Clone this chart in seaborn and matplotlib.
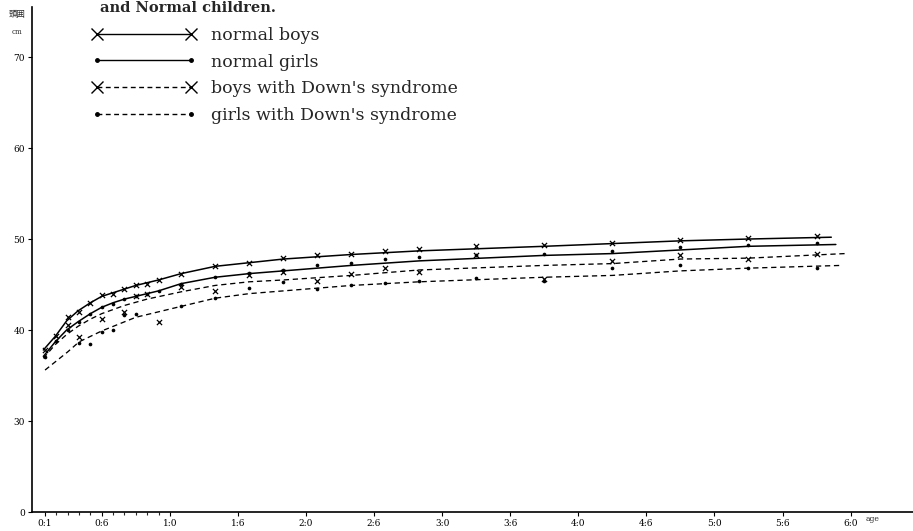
import matplotlib
matplotlib.use("Agg")
import matplotlib.pyplot as plt
from matplotlib.lines import Line2D
import numpy as np
import pandas as pd
import seaborn as sns

# ---------------- data (age in months, head circumference in cm) ----------------
boys_curve_m = [0.85, 1.9, 2.9, 3.9, 5, 6, 7, 8, 9, 10, 11, 13, 16, 19, 22, 28, 34, 45, 51, 57, 63, 70.3]
boys_curve_v = [37.8, 39.3, 41.0, 42.1, 43.0, 43.7, 44.1, 44.5, 44.9, 45.2, 45.5, 46.2, 47.0, 47.4, 47.8, 48.3, 48.7, 49.2, 49.5, 49.8, 50.0, 50.2]

girls_curve_m = [0.85, 1.9, 2.9, 3.9, 5, 6, 7, 8, 9, 10, 11, 13, 16, 19, 22, 28, 34, 45, 51, 57, 63, 70.7]
girls_curve_v = [37.1, 38.7, 40.0, 40.9, 41.8, 42.5, 43.0, 43.4, 43.7, 44.0, 44.3, 45.1, 45.8, 46.2, 46.5, 47.1, 47.6, 48.2, 48.4, 48.8, 49.2, 49.4]

dboys_curve_m = [0.85, 1.9, 2.9, 3.9, 5, 6, 8, 10, 13, 16, 19, 22, 28, 34, 45, 51, 57, 63, 71.5]
dboys_curve_v = [36.9, 38.4, 39.5, 40.4, 41.2, 41.8, 42.7, 43.4, 44.2, 44.9, 45.3, 45.5, 46.0, 46.6, 47.1, 47.3, 47.8, 47.9, 48.4]

dgirls_curve_m = [1.0, 2, 3, 4, 5, 6, 7, 9, 13, 16, 19, 22, 28, 34, 45, 51, 57, 63, 71.2]
dgirls_curve_v = [35.6, 36.6, 37.6, 38.7, 39.3, 39.9, 40.4, 41.4, 42.6, 43.5, 44.0, 44.3, 44.9, 45.3, 45.8, 46.0, 46.5, 46.8, 47.1]

pts_m = [1, 2, 3, 4, 5, 6, 7, 8, 9, 10, 11, 13, 16, 19, 22, 25, 28, 31, 34, 39, 45, 51, 57, 63, 69]
boys_pts = [37.8, 39.3, 41.4, 42.0, 43.0, 43.8, 44.0, 44.5, 44.9, 45.1, 45.5, 46.2, 47.0, 47.4, 47.9,
            48.2, 48.4, 48.7, 48.9, 49.2, 49.3, 49.6, 49.9, 50.1, 50.3]
girls_pts = [37.0, 38.8, 40.0, 40.9, 41.8, 42.5, 42.9, 43.4, 43.7, 44.0, 44.3, 45.1, 45.8, 46.3, 46.6,
             47.1, 47.4, 47.8, 48.0, 48.2, 48.4, 48.7, 49.1, 49.3, 49.6]

dboys_pts_m = [3, 4, 6, 8, 9, 10, 11, 13, 16, 19, 22, 25, 28, 31, 34, 39, 45, 51, 57, 63, 69]
dboys_pts = [40.5, 39.2, 41.2, 42.0, 43.7, 44.0, 40.9, 44.7, 44.3, 46.0, 46.4, 45.4, 46.2, 46.8, 46.4,
             48.2, 45.6, 47.6, 48.2, 47.8, 48.4]

dgirls_pts_m = [4, 5, 6, 7, 8, 9, 13, 16, 19, 22, 25, 28, 31, 34, 39, 45, 51, 57, 63, 69]
dgirls_pts = [38.6, 38.5, 39.8, 40.0, 41.6, 41.8, 42.6, 43.5, 44.6, 45.3, 44.5, 44.9, 45.2, 45.4, 45.7,
              45.4, 46.8, 47.2, 46.8, 46.8]

series_labels = ["normal boys", "normal girls", "boys with Down's syndrome", "girls with Down's syndrome"]
x_tick_months = [1, 6, 12, 18, 24, 30, 36, 42, 48, 54, 60, 66, 72]
x_tick_labels = ["0:1", "0:6", "1:0", "1:6", "2:0", "2:6", "3:0", "3:6", "4:0", "4:6", "5:0", "5:6", "6:0"]
y_tick_values = [20, 30, 40, 50, 60, 70]   # bottom tick stands for the broken-axis origin
y_tick_labels = ["0", "30", "40", "50", "60", "70"]

# ---------------- figure ----------------
sns.set_style("ticks")
plt.rcParams["font.family"] = ["DejaVu Serif", "Noto Sans CJK JP"]

W, H = 913, 531
fig = plt.figure(figsize=(W / 100, H / 100), dpi=100)
ax = fig.add_axes([32 / W, (H - 512) / H, 1 - 32 / W, (512 - 7) / H])

solid = dict(color="black", lw=1.1)
dashed = dict(color="black", lw=0.95, linestyle=(0, (4, 2.8)))

sns.lineplot(x=boys_curve_m, y=boys_curve_v, ax=ax, **solid)
sns.lineplot(x=girls_curve_m, y=girls_curve_v, ax=ax, **solid)
sns.lineplot(x=dboys_curve_m, y=dboys_curve_v, ax=ax, **dashed)
sns.lineplot(x=dgirls_curve_m, y=dgirls_curve_v, ax=ax, **dashed)

xm = dict(marker="x", s=14, color="black", linewidth=0.9)
dm = dict(marker="o", s=7, color="black", linewidth=0)
sns.scatterplot(x=pts_m, y=boys_pts, ax=ax, **xm)
sns.scatterplot(x=pts_m, y=girls_pts, ax=ax, **dm)
sns.scatterplot(x=dboys_pts_m, y=dboys_pts, ax=ax, **xm)
sns.scatterplot(x=dgirls_pts_m, y=dgirls_pts, ax=ax, **dm)

ax.set_xlim(-0.15, 77.5)
ax.set_ylim(20, 75.5)
sns.despine(ax=ax)
for sp in ("left", "bottom"):
    ax.spines[sp].set_linewidth(1.2)
    ax.spines[sp].set_color("black")

ax.set_xticks(x_tick_months)
ax.set_xticklabels(x_tick_labels, fontsize=6.5)
ax.set_xticks(list(range(2, 12)), minor=True)
ax.set_yticks(y_tick_values)
ax.set_yticklabels(y_tick_labels, fontsize=6.5)
ax.tick_params(axis="both", which="major", direction="out", length=3, width=0.8, pad=2, colors="black")
ax.tick_params(axis="x", which="minor", direction="out", length=2.5, width=0.8)
ax.set_xlabel("")
ax.set_ylabel("")

# axis annotations
fig.text(873 / W, 1 - 519 / H, "age", fontsize=5.5, ha="center", va="center")
fig.text(17 / W, 1 - 14 / H, "頭囲", fontsize=6, ha="center", va="center",
         family=["Noto Sans CJK JP", "DejaVu Sans"])
fig.text(17 / W, 1 - 32 / H, "cm", fontsize=5, ha="center", va="center")

# title line at the very top (lower part of the original caption)
fig.text(100 / W, 1 - 12 / H, "and Normal children.", fontsize=10.5, fontweight="bold",
         ha="left", va="baseline")

# legend
handles = [
    Line2D([], [], color="black", lw=1.0, marker="x", markersize=8, markeredgewidth=1.0),
    Line2D([], [], color="black", lw=1.0, marker="o", markersize=2.5),
    Line2D([], [], color="black", lw=1.0, linestyle=(0, (3.5, 2.5)), marker="x", markersize=8, markeredgewidth=1.0),
    Line2D([], [], color="black", lw=1.0, linestyle=(0, (3.5, 2.5)), marker="o", markersize=2.5),
]
leg = fig.legend(handles, series_labels, loc="upper left", bbox_to_anchor=(92 / W, 1 - 27 / H),
                 bbox_transform=fig.transFigure, frameon=False, numpoints=2,
                 prop={"family": "DejaVu Serif", "size": 12.5},
                 handlelength=6.0, handletextpad=0.85, labelspacing=0.55,
                 borderpad=0, borderaxespad=0)

fig.savefig("out.png", dpi=100)
